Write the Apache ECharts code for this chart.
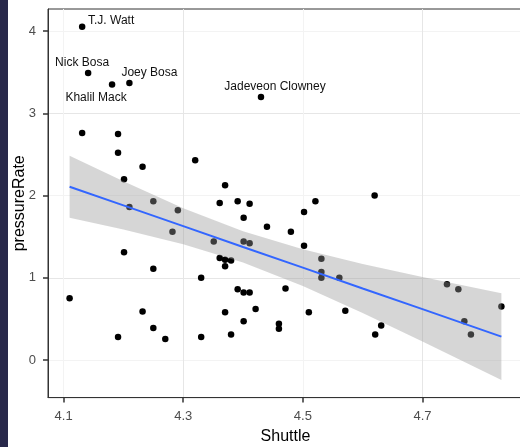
<!DOCTYPE html>
<html><head><meta charset="utf-8">
<script src="https://cdn.jsdelivr.net/npm/echarts@6/dist/echarts.min.js"></script>
<style>html,body{margin:0;padding:0;background:#fff}#c{width:520px;height:447px}</style>
</head><body><div id="c"></div>
<script>
// ---- data ----
const shuttle = [4.131, 4.141, 4.181, 4.210, 4.430, 4.131, 4.191, 4.191, 4.320, 4.232,
  4.201, 4.250, 4.210, 4.291, 4.282, 4.201, 4.250, 4.330, 4.110, 4.232,
  4.250, 4.191, 4.270, 4.330, 4.370, 4.361, 4.391, 4.411, 4.401, 4.440,
  4.480, 4.502, 4.521, 4.351, 4.401, 4.411, 4.502, 4.531, 4.361, 4.370,
  4.380, 4.370, 4.531, 4.531, 4.561, 4.391, 4.401, 4.411, 4.471, 4.421,
  4.370, 4.510, 4.571, 4.401, 4.460, 4.460, 4.380, 4.620, 4.741, 4.760,
  4.832, 4.770, 4.781, 4.631, 4.621];
const pressureRate = [4.055, 3.49, 3.35, 3.37, 3.20, 2.76, 2.75, 2.52, 2.43, 2.35,
  2.20, 1.93, 1.86, 1.82, 1.56, 1.31, 1.11, 1.00, 0.75, 0.59,
  0.39, 0.28, 0.255, 0.28, 2.125, 1.91, 1.93, 1.90, 1.73, 1.62,
  1.56, 1.80, 1.93, 1.44, 1.44, 1.42, 1.39, 1.23, 1.24, 1.22,
  1.21, 1.14, 1.07, 1.00, 1.00, 0.86, 0.82, 0.82, 0.87, 0.62,
  0.58, 0.58, 0.60, 0.47, 0.44, 0.38, 0.31, 2.00, 0.92, 0.86,
  0.65, 0.47, 0.31, 0.42, 0.31];
const playerNames = ['T.J. Watt', 'Nick Bosa', 'Khalil Mack', 'Joey Bosa', 'Jadeveon Clowney'];
const fitX     = [4.11, 4.2, 4.3, 4.4, 4.5, 4.6, 4.7, 4.832];
const fitY     = [2.108, 1.881, 1.628, 1.375, 1.123, 0.870, 0.618, 0.284];
const fitUpper = [2.485, 2.174, 1.847, 1.565, 1.346, 1.168, 1.010, 0.811];
const fitLower = [1.731, 1.588, 1.409, 1.185, 0.900, 0.572, 0.226, -0.243];
const xTickLabels = ['4.1', '4.3', '4.5', '4.7'];
const yTickLabels = ['0', '1', '2', '3', '4'];

// ---- styling (label placement relative to its point) ----
const labelOffsets = {
  'T.J. Watt': [29, -5.5],
  'Nick Bosa': [-6, -10.7],
  'Khalil Mack': [-16, 13.3],
  'Joey Bosa': [20, -10.6],
  'Jadeveon Clowney': [14, -10.6]
};

const chart = echarts.init(document.getElementById('c'), null, {renderer: 'canvas'});
const xTicks = xTickLabels.map(Number);
const yTicks = yTickLabels.map(Number);

const pts = shuttle.map((x, i) => {
  const item = {value: [x, pressureRate[i]]};
  const nm = playerNames[i];
  if (nm) {
    item.name = nm;
    item.label = {show: true, position: 'inside', offset: labelOffsets[nm], formatter: nm,
      fontSize: 12, color: '#111', fontFamily: 'Liberation Sans, Arial, sans-serif'};
  }
  return item;
});

const MAJ = '#e6e6e6', MIN = '#f3f3f3';
const FONT = 'Liberation Sans, Arial, sans-serif';

chart.setOption({
  animation: false,
  backgroundColor: '#fff',
  graphic: [{type: 'rect', left: 0, top: 0, shape: {width: 8, height: 447}, style: {fill: '#28284a'}, z: 100}],
  grid: {left: 48, top: 9, right: -3, bottom: 49.4, show: true, borderColor: '#333', borderWidth: 1, outerBoundsMode: 'none'},
  xAxis: {
    type: 'value', min: 4.0739, max: 4.8681, splitNumber: 8,
    name: 'Shuttle', nameLocation: 'middle', nameGap: 31,
    nameTextStyle: {color: '#000', fontSize: 16, fontFamily: FONT},
    axisLine: {show: true, onZero: false, lineStyle: {color: '#333', width: 1}},
    axisTick: {show: true, inside: false, length: 5, customValues: xTicks, lineStyle: {color: '#333333', width: 1.5}},
    splitLine: {show: true, lineStyle: {color: [MIN, MAJ], width: 1}},
    axisLabel: {show: true, margin: 12, customValues: xTicks, color: '#4d4d4d', fontSize: 13, fontFamily: FONT,
      formatter: v => v.toFixed(1)}
  },
  yAxis: {
    type: 'value', min: -0.458, max: 4.27, splitNumber: 10,
    name: 'pressureRate', nameLocation: 'middle', nameGap: 20, nameRotate: 90, nameMoveOverlap: false,
    nameTextStyle: {color: '#000', fontSize: 16, fontFamily: FONT},
    axisLine: {show: true, onZero: false, lineStyle: {color: '#333', width: 1}},
    axisTick: {show: true, inside: false, length: 5, customValues: yTicks, lineStyle: {color: '#333333', width: 1.5}},
    splitLine: {show: true, lineStyle: {color: [MIN, MAJ], width: 1}},
    axisLabel: {show: true, margin: 12, customValues: yTicks, color: '#4d4d4d', fontSize: 13, fontFamily: FONT,
      formatter: v => String(Math.round(v))}
  },
  series: [
    {type: 'scatter', data: pts, symbolSize: 6.5, itemStyle: {color: '#000', opacity: 1}, z: 2, silent: true},
    {type: 'custom', z: 3, silent: true, data: [[fitX[0], fitY[0]]],
      renderItem: (params, api) => {
        const poly = [];
        for (let i = 0; i < fitX.length; i++) poly.push(api.coord([fitX[i], fitUpper[i]]));
        for (let i = fitX.length - 1; i >= 0; i--) poly.push(api.coord([fitX[i], fitLower[i]]));
        return {type: 'polygon', shape: {points: poly}, style: {fill: 'rgba(153,153,153,0.4)'}};
      }},
    {type: 'line', z: 4, silent: true, data: fitX.map((x, i) => [x, fitY[i]]), showSymbol: false,
      lineStyle: {color: '#3366FF', width: 2}}
  ]
});
</script></body></html>
